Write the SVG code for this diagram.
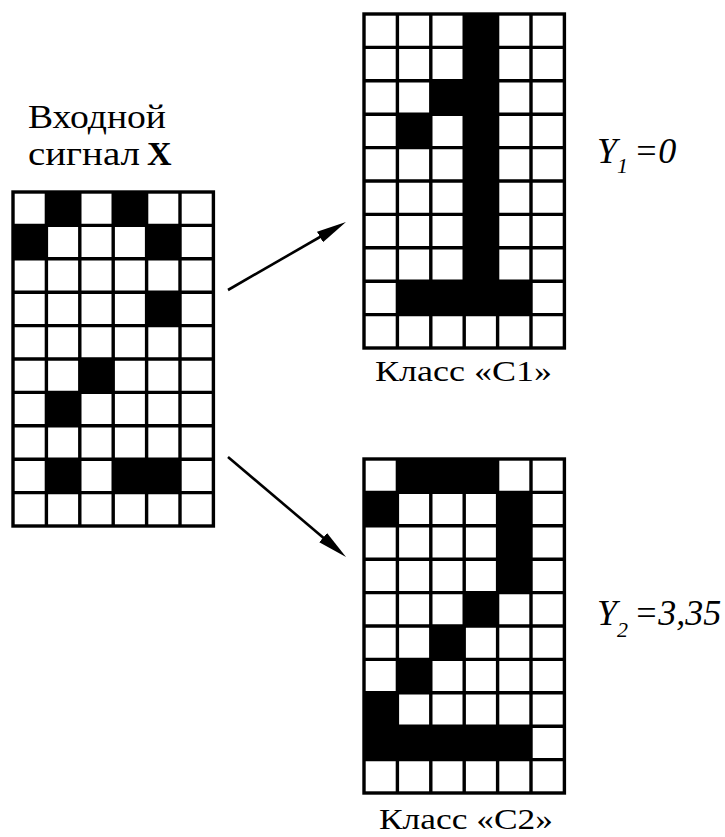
<svg xmlns="http://www.w3.org/2000/svg" xmlns:xlink="http://www.w3.org/1999/xlink" width="725" height="837" viewBox="0 0 725 837">
<style>
.t{font-family:"Liberation Serif","Times New Roman",serif;fill:#000}
.i{font-style:italic}
.cell{fill:#000}
.gl{fill:none;stroke:#000;stroke-width:3.4}
.ar{stroke:#000;stroke-width:2.6;fill:none}
</style>
<defs>
<g id="grid">
<rect class="gl" x="0" y="0" width="200.4" height="334"/>
<path class="gl" d="M33.4 0V334M66.8 0V334M100.2 0V334M133.6 0V334M167 0V334M0 33.4H200.4M0 66.8H200.4M0 100.2H200.4M0 133.6H200.4M0 167H200.4M0 200.4H200.4M0 233.8H200.4M0 267.2H200.4M0 300.6H200.4"/>
</g>
<marker id="ah" markerUnits="userSpaceOnUse" markerWidth="32" markerHeight="14" viewBox="0 0 32 14" refX="20" refY="7" orient="auto">
<path d="M0 1 L30 7 L0 13 Z" fill="#000"/>
</marker>
</defs>
<rect width="725" height="837" fill="#fff"/>
<g id="input">
<g transform="translate(13,192)">
<rect x="0" y="0" width="200.4" height="334" fill="#fff"/>
<rect class="cell" x="33.4" y="0" width="33.4" height="33.4"/>
<rect class="cell" x="100.2" y="0" width="33.4" height="33.4"/>
<rect class="cell" x="0" y="33.4" width="33.4" height="33.4"/>
<rect class="cell" x="133.6" y="33.4" width="33.4" height="33.4"/>
<rect class="cell" x="133.6" y="100.2" width="33.4" height="33.4"/>
<rect class="cell" x="66.8" y="167" width="33.4" height="33.4"/>
<rect class="cell" x="33.4" y="200.4" width="33.4" height="33.4"/>
<rect class="cell" x="33.4" y="267.2" width="33.4" height="33.4"/>
<rect class="cell" x="100.2" y="267.2" width="66.8" height="33.4"/>
<use xlink:href="#grid"/>
</g>
<text class="t" x="28" y="128" font-size="34" textLength="138" lengthAdjust="spacingAndGlyphs">Входной</text>
<text class="t" x="28" y="165" font-size="34"><tspan textLength="112" lengthAdjust="spacingAndGlyphs">сигнал</tspan><tspan x="147" font-weight="bold">X</tspan></text>
</g>
<g id="class1">
<g transform="translate(364,14)">
<rect x="0" y="0" width="200.4" height="334" fill="#fff"/>
<rect class="cell" x="100.2" y="0" width="33.4" height="300.6"/>
<rect class="cell" x="66.8" y="66.8" width="33.4" height="33.4"/>
<rect class="cell" x="33.4" y="100.2" width="33.4" height="33.4"/>
<rect class="cell" x="33.4" y="267.2" width="133.6" height="33.4"/>
<use xlink:href="#grid"/>
</g>
<text class="t" x="375" y="381" font-size="30" textLength="177" lengthAdjust="spacingAndGlyphs">Класс «С1»</text>
<text class="t i" x="597" y="163" font-size="36">Y<tspan x="617" y="173" font-size="22">1</tspan><tspan x="634" y="163">=0</tspan></text>
</g>
<g id="class2">
<g transform="translate(364,459)">
<rect x="0" y="0" width="200.4" height="334" fill="#fff"/>
<rect class="cell" x="33.4" y="0" width="100.2" height="33.4"/>
<rect class="cell" x="0" y="33.4" width="33.4" height="33.4"/>
<rect class="cell" x="133.6" y="33.4" width="33.4" height="100.2"/>
<rect class="cell" x="100.2" y="133.6" width="33.4" height="33.4"/>
<rect class="cell" x="66.8" y="167" width="33.4" height="33.4"/>
<rect class="cell" x="33.4" y="200.4" width="33.4" height="33.4"/>
<rect class="cell" x="0" y="233.8" width="33.4" height="66.8"/>
<rect class="cell" x="0" y="267.2" width="167" height="33.4"/>
<use xlink:href="#grid"/>
</g>
<text class="t" x="379" y="829" font-size="30" textLength="174" lengthAdjust="spacingAndGlyphs">Класс «С2»</text>
<text class="t i" x="597" y="625" font-size="36">Y<tspan x="617" y="637" font-size="22">2</tspan><tspan x="634" y="625">=3,35</tspan></text>
</g>
<g id="connectors">
<line class="ar" x1="228" y1="290" x2="337.3" y2="227" marker-end="url(#ah)"/>
<line class="ar" x1="228" y1="457" x2="338.4" y2="550.5" marker-end="url(#ah)"/>
</g>
</svg>
